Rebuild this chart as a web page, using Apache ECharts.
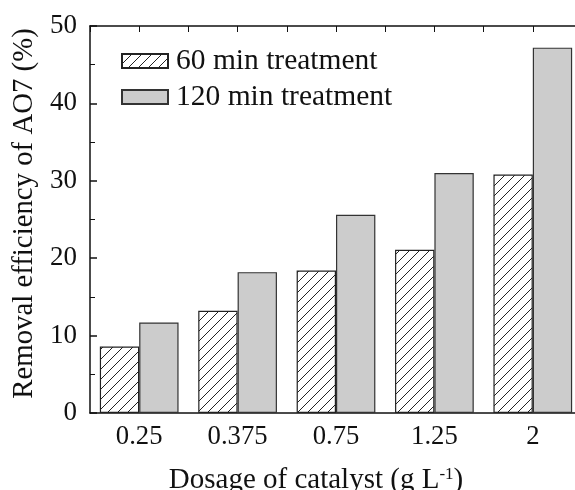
<!DOCTYPE html>
<html>
<head>
<meta charset="utf-8">
<script src="https://cdn.jsdelivr.net/npm/echarts@6/dist/echarts.min.js"></script>
<style>
  html, body { margin: 0; padding: 0; background: #ffffff; }
  #chart { width: 575px; height: 490px; }
</style>
</head>
<body>
<div id="chart"></div>
<script>
var categories = ['0.25', '0.375', '0.75', '1.25', '2'];
var treat60 = [8.6, 13.2, 18.4, 21.1, 30.8];
var treat120 = [11.7, 18.2, 25.6, 31.0, 47.2];
var yTicks = [0, 10, 20, 30, 40, 50];

// diagonal hatch for the 60 min bars
function makeHatch() {
  var c = document.createElement('canvas');
  c.width = 10;
  c.height = 10;
  var ctx = c.getContext('2d');
  ctx.fillStyle = '#ffffff';
  ctx.fillRect(0, 0, 10, 10);
  ctx.strokeStyle = '#222';
  ctx.lineWidth = 1;
  ctx.beginPath();
  ctx.moveTo(-1, 11); ctx.lineTo(11, -1);
  ctx.moveTo(-6, 6); ctx.lineTo(6, -6);
  ctx.moveTo(4, 16); ctx.lineTo(16, 4);
  ctx.stroke();
  return c;
}

var font = 'Liberation Serif';
var chart = echarts.init(document.getElementById('chart'));
var option = {
  backgroundColor: '#ffffff',
  animation: false,
  grid: { left: 90, top: 26, height: 387, width: 492, outerBoundsMode: 'none', containLabel: false },
  legend: {
    orient: 'vertical',
    left: 121,
    top: 46,
    padding: 0,
    itemWidth: 46,
    itemHeight: 14,
    itemGap: 6,
    icon: 'rect',
    textStyle: { fontFamily: font, fontSize: 29.5, color: '#111', padding: [0, 0, 0, 3] },
    data: ['60 min treatment', '120 min treatment']
  },
  xAxis: [
    {
      type: 'category',
      data: categories,
      position: 'bottom',
      axisLine: { lineStyle: { color: '#111', width: 1.5 } },
      axisTick: { alignWithLabel: true, inside: false, length: 7, lineStyle: { color: '#111', width: 1.5 } },
      axisLabel: { fontFamily: font, fontSize: 26.7, color: '#111', margin: 10 },
      name: 'Dosage of catalyst (g L{sup|-1})',
      nameLocation: 'middle',
      nameGap: 53,
      nameTextStyle: {
        fontFamily: font, fontSize: 29, color: '#111', padding: [0, 40, 0, 0],
        rich: { sup: { fontFamily: font, fontSize: 17, color: '#111', verticalAlign: 'top', padding: [0, 0, 12, 0] } }
      }
    },
    {
      type: 'value',
      position: 'top',
      min: 0,
      max: 10,
      interval: 1,
      axisLine: { show: true, lineStyle: { color: '#111', width: 1.5 } },
      axisTick: { show: true, inside: true, length: 6, lineStyle: { color: '#111', width: 1 } },
      axisLabel: { show: false },
      splitLine: { show: false }
    }
  ],
  yAxis: {
    type: 'value',
    min: 0,
    max: 50,
    interval: 10,
    axisLine: { show: true, lineStyle: { color: '#111', width: 1.5 } },
    axisTick: { show: true, inside: true, length: 7, lineStyle: { color: '#111', width: 1.5 } },
    minorTick: { show: true, splitNumber: 2, length: 5, lineStyle: { color: '#111', width: 1 } },
    axisLabel: {
      fontFamily: font, fontSize: 27, color: '#111', margin: 13,
      formatter: function (v) { return yTicks.indexOf(v) >= 0 ? String(v) : ''; }
    },
    splitLine: { show: false },
    name: 'Removal efficiency of AO7 (%)',
    nameLocation: 'middle',
    nameGap: 46,
    nameTextStyle: { fontFamily: font, fontSize: 28.8, color: '#111', padding: [0, 0, 0, 12] }
  },
  series: [
    {
      name: '60 min treatment',
      type: 'bar',
      data: treat60,
      barGap: '0%',
      barCategoryGap: '20%',
      itemStyle: {
        color: { image: makeHatch(), repetition: 'repeat' },
        borderColor: '#222',
        borderWidth: 1.2
      }
    },
    {
      name: '120 min treatment',
      type: 'bar',
      data: treat120,
      barGap: '0%',
      barCategoryGap: '20%',
      itemStyle: { color: '#cccccc', borderColor: '#333', borderWidth: 1.2 }
    }
  ]
};
chart.setOption(option);
</script>
</body>
</html>
